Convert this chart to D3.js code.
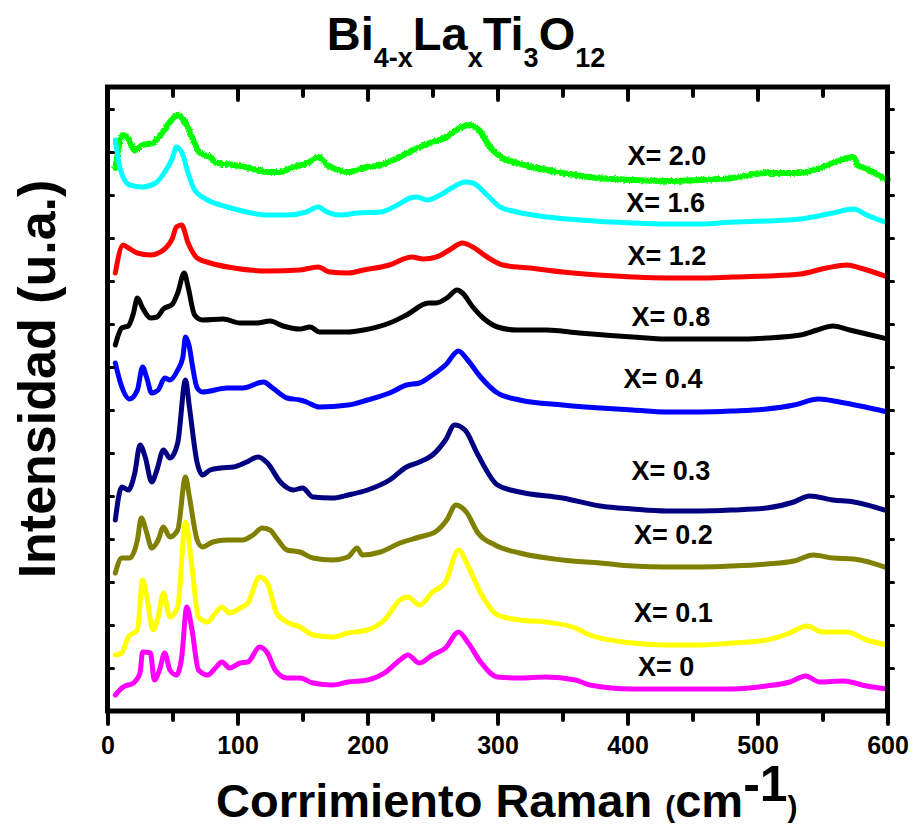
<!DOCTYPE html>
<html>
<head>
<meta charset="utf-8">
<script src="https://cdn.jsdelivr.net/npm/d3@7"></script>
<style>
  html, body { margin: 0; padding: 0; background: #fff; }
  svg { display: block; font-family: "Liberation Sans", Arial, sans-serif; font-weight: bold; }
</style>
</head>
<body>
<svg id="chart" width="914" height="827"></svg>
<script>
// Raman spectra of Bi(4-x)La(x)Ti3O12, stacked with vertical offsets (arbitrary units).
// Each series: [Raman shift (cm-1), intensity (a.u.)]
const seriesX20 = [[6,543],[12,576],[15,574],[21,561],[27,566],[35,568],[42,578],[48,589],[54,596],[60,588],[66,571],[71,558],[79,554],[84,548],[97,546],[110,543],[123,539],[133,539],[143,544],[154,548],[162,554],[169,546],[177,541],[185,539],[197,543],[210,546],[223,553],[235,561],[248,568],[261,574],[271,583],[279,586],[287,579],[294,564],[304,553],[315,548],[330,543],[350,538],[377,533],[404,531],[430,530],[456,531],[481,533],[507,538],[533,538],[546,542],[558,548],[574,554],[577,546],[584,542],[600,531]];
const seriesX16 = [[6,571],[10,541],[17,526],[27,524],[37,528],[44,539],[50,553],[53,564],[58,556],[62,538],[67,521],[77,511],[92,504],[107,499],[123,496],[138,496],[153,499],[162,504],[169,499],[179,496],[192,498],[210,499],[223,506],[233,513],[238,514],[246,511],[256,516],[266,524],[275,529],[281,528],[292,516],[302,504],[315,499],[338,494],[363,491],[404,488],[430,487],[456,487],[481,489],[507,490],[533,492],[558,498],[574,502],[584,496],[600,488]];
const seriesX12 = [[6,438],[12,466],[15,464],[23,458],[33,456],[43,461],[50,473],[53,484],[57,486],[62,468],[69,453],[79,448],[97,443],[123,440],[148,441],[162,444],[171,439],[185,438],[197,441],[217,446],[234,454],[243,452],[253,454],[263,461],[273,468],[281,464],[292,454],[304,446],[325,443],[350,439],[377,436],[404,434],[430,433],[456,433],[481,434],[507,435],[533,437],[553,443],[569,446],[579,443],[600,434]];
const seriesX08 = [[6,366],[11,383],[16,385],[20,398],[23,413],[27,403],[33,393],[38,394],[43,402],[50,407],[54,418],[59,438],[62,424],[67,396],[73,391],[89,392],[102,388],[115,388],[125,390],[135,385],[148,382],[156,384],[163,379],[185,379],[197,381],[217,388],[230,396],[247,408],[253,408],[261,413],[269,421],[273,418],[281,404],[289,393],[300,384],[315,381],[338,381],[363,378],[404,374],[430,372],[456,372],[481,372],[507,373],[533,376],[546,381],[558,385],[571,381],[584,377],[600,372]];
const seriesX04 = [[6,348],[10,328],[17,312],[23,321],[27,344],[30,334],[34,318],[39,321],[44,333],[48,331],[54,341],[58,354],[60,374],[63,364],[65,348],[69,323],[73,319],[92,323],[104,323],[120,329],[127,323],[138,313],[148,311],[153,309],[163,304],[185,306],[200,311],[217,318],[230,326],[240,328],[250,336],[260,346],[270,360],[277,351],[287,334],[300,318],[317,311],[350,306],[379,303],[404,301],[430,299],[456,299],[481,300],[507,302],[528,306],[547,312],[563,309],[579,305],[600,299]];
const seriesX03 = [[6,191],[11,224],[16,221],[21,238],[25,266],[29,254],[34,229],[38,241],[43,261],[48,253],[54,268],[60,331],[63,304],[69,248],[73,236],[79,241],[87,243],[97,244],[107,249],[116,254],[123,248],[133,229],[143,221],[150,223],[158,214],[173,213],[185,216],[200,221],[217,231],[230,244],[240,249],[250,256],[260,271],[267,286],[275,281],[285,256],[300,226],[317,219],[350,213],[379,205],[404,202],[430,200],[456,200],[481,201],[507,203],[528,209],[540,215],[558,211],[574,209],[600,200]];
const seriesX02 = [[6,138],[11,153],[17,153],[23,171],[26,193],[30,179],[34,163],[39,171],[43,184],[48,174],[54,181],[60,234],[63,214],[69,171],[73,164],[81,169],[92,171],[104,171],[112,176],[119,183],[125,181],[130,173],[138,161],[148,159],[158,153],[173,151],[185,154],[192,163],[196,156],[210,159],[225,168],[240,174],[252,179],[261,191],[268,206],[276,199],[285,178],[298,166],[317,158],[350,151],[379,148],[404,145],[430,144],[456,144],[481,145],[507,147],[528,150],[543,156],[558,153],[574,152],[600,143]];
const seriesX01 = [[6,56],[11,58],[16,74],[23,81],[27,131],[30,116],[35,81],[39,94],[43,118],[48,94],[54,104],[60,189],[65,144],[70,94],[77,89],[83,98],[88,104],[94,98],[102,103],[108,108],[117,134],[123,128],[130,98],[138,89],[148,84],[158,76],[173,74],[185,78],[200,81],[213,91],[225,111],[231,114],[240,106],[250,119],[260,129],[270,161],[277,146],[287,118],[300,96],[317,91],[337,89],[360,83],[371,76],[404,68],[430,66],[456,66],[481,68],[507,71],[523,77],[538,85],[550,79],[569,79],[584,71],[600,66]];
const seriesX00 = [[6,16],[12,24],[20,28],[25,38],[27,59],[33,58],[36,31],[40,41],[44,58],[48,41],[53,36],[57,53],[61,104],[65,81],[70,41],[77,36],[83,43],[88,49],[94,43],[102,48],[108,49],[117,64],[123,58],[129,41],[138,33],[148,33],[158,28],[173,26],[185,29],[200,31],[213,38],[225,51],[231,56],[240,48],[250,56],[260,63],[270,79],[277,69],[287,49],[300,34],[317,33],[337,34],[360,31],[371,26],[404,22],[430,22],[456,22],[481,22],[507,25],[525,29],[537,35],[548,29],[566,30],[584,25],[600,22]];

const labels = ["X= 2.0","X= 1.6","X= 1.2","X= 0.8","X= 0.4","X= 0.3","X= 0.2","X= 0.1","X= 0"];
const colors = ["#00ff00","#00ffff","#ff0000","#000000","#0000ff","#000080","#808000","#ffff00","#ff00ff"];
const allSeries = [seriesX20, seriesX16, seriesX12, seriesX08, seriesX04, seriesX03, seriesX02, seriesX01, seriesX00];
// label anchors in data units [Raman shift, intensity]
const labelAnchors = [[400,546],[399,499],[400,446],[403,385],[397,323],[403,231],[405,167],[405,89],[408,35]];

const xMajorTicks = [0,100,200,300,400,500,600];
const xMinorTicks = [50,150,250,350,450,550];
const yTicks = d3.range(43, 624, 43);

const svg = d3.select("#chart");
const plotLeft = 107.5, plotRight = 887.5, plotTop = 87, plotBottom = 711;

const x = d3.scaleLinear().domain([0, 600]).range([plotLeft, plotRight]);
const y = d3.scaleLinear().domain([0, 624]).range([plotBottom, plotTop]);

// the X = 2.0 spectrum is a noisy acquisition: roughen its trace slightly
const defs = svg.append("defs");
const rough = defs.append("filter").attr("id", "rough")
  .attr("x", "-2%").attr("y", "-10%").attr("width", "104%").attr("height", "120%");
rough.append("feTurbulence").attr("type", "fractalNoise").attr("baseFrequency", 0.55)
  .attr("numOctaves", 1).attr("seed", 4).attr("result", "noise");
rough.append("feDisplacementMap").attr("in", "SourceGraphic").attr("in2", "noise")
  .attr("scale", 4).attr("xChannelSelector", "R").attr("yChannelSelector", "G");

// spectra
const line = d3.line().x(d => x(d[0])).y(d => y(d[1])).curve(d3.curveMonotoneX);
svg.append("g").selectAll("path")
  .data(allSeries)
  .join("path")
  .attr("d", line)
  .attr("fill", "none")
  .attr("stroke", (d, i) => colors[i])
  .attr("stroke-width", (d, i) => i === 0 ? 6 : 5)
  .attr("stroke-linejoin", "round")
  .attr("stroke-linecap", "round")
  .attr("filter", (d, i) => i === 0 ? "url(#rough)" : null);

// axes
function styleAxis(g) {
  g.select(".domain").remove();
  g.selectAll(".tick line").attr("stroke", "#000").attr("stroke-width", 4).attr("stroke-linecap", "round");
}
svg.append("g").attr("transform", `translate(0,${plotBottom})`)
  .call(d3.axisBottom(x).tickValues(xMajorTicks).tickSize(13).tickPadding(12).tickFormat(d3.format("d")))
  .call(styleAxis)
  .call(g => g.selectAll("text").attr("font-size", 25).attr("font-weight", "bold")
    .attr("font-family", "'Liberation Sans', Arial, sans-serif").attr("fill", "#000"));
svg.append("g").attr("transform", `translate(0,${plotBottom})`)
  .call(d3.axisBottom(x).tickValues(xMinorTicks).tickSize(9).tickFormat(""))
  .call(styleAxis);
svg.append("g").attr("transform", `translate(0,${plotTop})`)
  .call(d3.axisTop(x).tickValues(xMajorTicks).tickSize(-13).tickFormat(""))
  .call(styleAxis);
svg.append("g").attr("transform", `translate(0,${plotTop})`)
  .call(d3.axisTop(x).tickValues(xMinorTicks).tickSize(-9).tickFormat(""))
  .call(styleAxis);
svg.append("g").attr("transform", `translate(${plotLeft},0)`)
  .call(d3.axisLeft(y).tickValues(yTicks).tickSize(-6).tickFormat(""))
  .call(styleAxis)
  .call(g => g.selectAll(".tick line").attr("stroke-width", 3));
svg.append("g").attr("transform", `translate(${plotRight},0)`)
  .call(d3.axisRight(y).tickValues(yTicks).tickSize(6).tickFormat(""))
  .call(styleAxis)
  .call(g => g.selectAll(".tick line").attr("stroke-width", 3));

// frame
svg.append("rect")
  .attr("x", plotLeft).attr("y", plotTop)
  .attr("width", plotRight - plotLeft).attr("height", plotBottom - plotTop)
  .attr("fill", "none").attr("stroke", "#000").attr("stroke-width", 5);

// series labels
svg.append("g").selectAll("text")
  .data(labels)
  .join("text")
  .attr("x", (d, i) => x(labelAnchors[i][0]))
  .attr("y", (d, i) => y(labelAnchors[i][1]))
  .attr("font-size", 27)
  .attr("fill", "#000")
  .text(d => d);

// title
const title = svg.append("text").attr("x", 466).attr("y", 50)
  .attr("text-anchor", "middle").attr("font-size", 47).attr("fill", "#000");
const titleParts = [["Bi", 0], ["4-x", 1], ["La", 0], ["x", 1], ["Ti", 0], ["3", 1], ["O", 0], ["12", 1]];
let prevSub = 0;
titleParts.forEach(([t, sub]) => {
  title.append("tspan")
    .attr("dy", sub === prevSub ? 0 : (sub ? 17 : -17))
    .attr("font-size", sub ? 27 : 47)
    .text(t);
  prevSub = sub;
});

// y-axis title
svg.append("text")
  .attr("transform", "translate(55,379) rotate(-90)")
  .attr("text-anchor", "middle").attr("font-size", 52).attr("fill", "#000")
  .text("Intensidad (u.a.)");

// x-axis title
const xt = svg.append("text").attr("x", 216).attr("y", 817).attr("font-size", 47).attr("fill", "#000");
xt.append("tspan").text("Corrimiento Raman ");
xt.append("tspan").attr("font-size", 30).text("(");
xt.append("tspan").text("cm");
xt.append("tspan").attr("dy", -16).attr("font-size", 50).text("-1");
xt.append("tspan").attr("dy", 16).attr("font-size", 30).text(")");
</script>
</body>
</html>
